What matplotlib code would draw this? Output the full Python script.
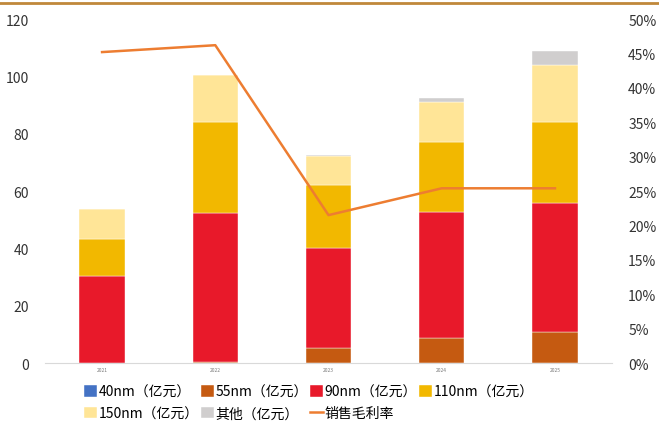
import numpy as np
import matplotlib.pyplot as plt
from matplotlib.lines import Line2D

plt.rcParams['font.family'] = ['Noto Sans CJK SC', 'DejaVu Sans']

years = ['2021', '2022', '2023', '2024', '2025']
nm40 = [0, 0, 0, 0, 0]
nm55 = [0, 0.4, 5.2, 8.7, 10.8]
nm90 = [30.3, 51.9, 34.9, 44.0, 45.0]
nm110 = [12.9, 31.8, 22.0, 24.4, 28.3]
nm150 = [10.5, 16.3, 10.1, 13.9, 19.8]
other = [0, 0, 0.3, 1.4, 4.9]
margin = [0.452, 0.462, 0.215, 0.254, 0.254]

series = [
    ('40nm（亿元）', nm40, '#4472C4'),
    ('55nm（亿元）', nm55, '#C55A11'),
    ('90nm（亿元）', nm90, '#E8192A'),
    ('110nm（亿元）', nm110, '#F2B800'),
    ('150nm（亿元）', nm150, '#FFE597'),
    ('其他（亿元）', other, '#D0CECE'),
]

fig = plt.figure(figsize=(6.59, 4.27), dpi=100)
ax = fig.add_axes([0.069, 0.1475, 0.859, 0.8055])
x = np.arange(len(years))
bottom = np.zeros(len(years))
handles = []
for name, vals, c in series:
    b = ax.bar(x, vals, 0.4, bottom=bottom, color=c, label=name,
               edgecolor='white', linewidth=0.3)
    bottom += np.array(vals)
    handles.append(b)

ax.set_xlim(-0.5, 4.5)
ax.set_ylim(0, 120)
ax.set_yticks(range(0, 121, 20))
ax.set_xticks(x)
ax.set_xticklabels(years, fontsize=3.5, color='#777777')
ax.tick_params(axis='y', length=0, labelsize=10, colors='#333333', pad=12)
ax.tick_params(axis='x', length=0, pad=3)
for s in ['top', 'right', 'left']:
    ax.spines[s].set_visible(False)
ax.spines['bottom'].set_color('#D9D9D9')

ax2 = ax.twinx()
ln, = ax2.plot(x, margin, color='#ED7D31', linewidth=1.8, label='销售毛利率')
ax2.set_ylim(0, 0.5)
ax2.set_yticks(np.arange(0, 0.51, 0.05))
ax2.set_yticklabels(['%d%%' % round(v * 100) for v in np.arange(0, 0.51, 0.05)])
ax2.tick_params(axis='y', length=0, labelsize=10, colors='#333333', pad=12)
for s in ['top', 'right', 'left', 'bottom']:
    ax2.spines[s].set_visible(False)

fig.add_artist(Line2D([0, 1], [0.99, 0.99], color='#C0883A', linewidth=2,
                      transform=fig.transFigure))

# legend fills column by column, so order to get row-wise layout
labels = [s[0] for s in series] + ['销售毛利率']
allh = handles + [ln]
order = [0, 4, 1, 5, 2, 6, 3]
fig.legend([allh[i] for i in order], [labels[i] for i in order],
           loc='upper left', bbox_to_anchor=(0.128, 0.097), ncol=4,
           frameon=False, fontsize=10, handlelength=0.9, handleheight=0.9,
           handletextpad=0.15, columnspacing=0.15, labelspacing=0.55,
           borderaxespad=0, borderpad=0)

fig.savefig('out.png', dpi=100)
